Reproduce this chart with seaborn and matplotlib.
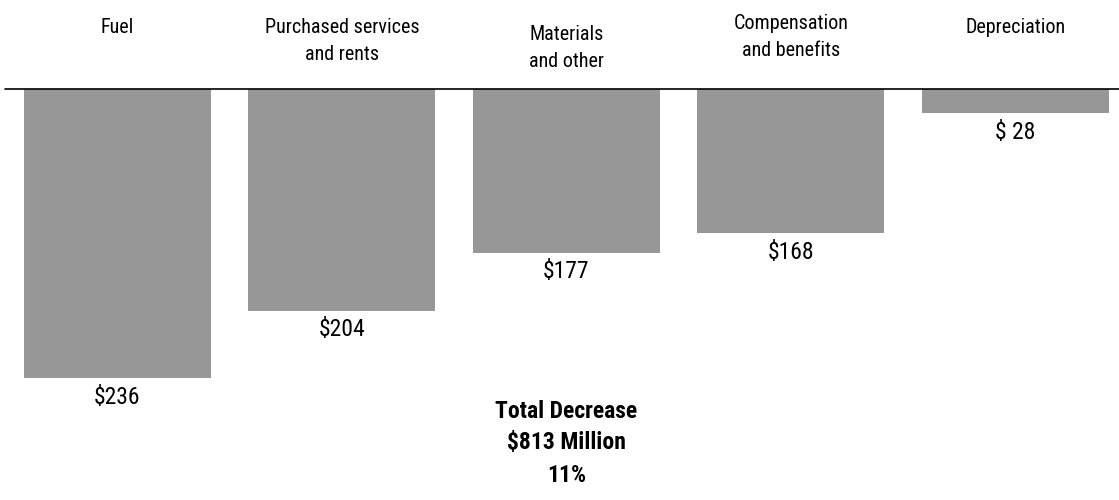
import matplotlib
matplotlib.use("Agg")
import matplotlib.pyplot as plt
import seaborn as sns
import pandas as pd

# ---- data ----
categories = ["Fuel", "Purchased services\nand rents", "Materials\nand other",
              "Compensation\nand benefits", "Depreciation"]
decrease_values = [236, 204, 177, 168, 28]          # $ million, as labelled
drawn_depth = [236, 180.7, 133.5, 118.0, 20.3]      # bar depth as drawn in the picture
total_lines = ["Total Decrease", "$813 Million", "11%"]

sns.set_theme(style="white")
FONT = ["Liberation Sans Narrow", "Roboto Condensed", "DejaVu Sans"]
plt.rcParams["font.family"] = FONT

W, H = 1119, 500
fig = plt.figure(figsize=(W / 100, H / 100), dpi=100)
ax = fig.add_axes([0, 0, 1, 1])

df = pd.DataFrame({"cat": categories, "depth": [-d for d in drawn_depth]})
sns.barplot(data=df, x="cat", y="depth", color="#979797", width=0.833,
            saturation=1, ax=ax, edgecolor="none")

px_per_unit = 1.2288
base_px = 88.5
ax.set_ylim(-(H - base_px) / px_per_unit, base_px / px_per_unit)
ax.set_xlim(-0.5236, 4.463)
ax.axhline(0, xmin=5 / W, xmax=1, color="black", lw=1.2)

ax.set_axis_off()

# value labels under bars
for i, (v, d) in enumerate(zip(decrease_values, drawn_depth)):
    ax.text(i, -d - 19 / px_per_unit, f"${v:>3}", ha="center", va="center",
            fontsize=17, color="black", family=FONT)

# category labels
label_top = [18, 18, 25, 14, 18]
for i, (c, t) in enumerate(zip(categories, label_top)):
    ax.text(i, 1 - t / H, c, ha="center", va="top", fontsize=14.5,
            linespacing=1.55, color="black", family=FONT,
            transform=ax.get_xaxis_transform())

# total text
for j, (line, y) in enumerate(zip(total_lines, [411, 443, 475])):
    ax.text(2, 1 - y / H, line, ha="center", va="center", fontsize=17,
            fontweight="bold", color="black", family=FONT,
            transform=ax.get_xaxis_transform())

fig.savefig("out.png", dpi=100)
